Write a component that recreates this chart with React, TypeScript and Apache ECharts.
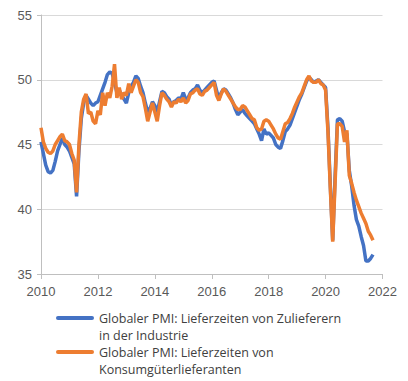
import React, { useEffect, useRef } from "react";
import * as echarts from "echarts";

const startYear = 2010;
const xTicks = [2010, 2012, 2014, 2016, 2018, 2020, 2022];
const yTicks = [35, 40, 45, 50, 55];

const seriesNames = [
  "Globaler PMI: Lieferzeiten von Zulieferern\nin der Industrie",
  "Globaler PMI: Lieferzeiten von\nKonsumgüterlieferanten",
];

// Monthly values, Jan 2010 – Sep 2021
const industrySuppliers = [
  45.2, 44.3, 43.4, 42.9, 42.8, 43.0, 43.7, 44.5, 45.0, 45.5, 45.0, 44.8,
  44.5, 44.0, 43.5, 41.0, 44.5, 47.0, 48.2, 48.8, 48.5, 48.2, 48.0, 48.2,
  48.3, 48.8, 49.3, 49.8, 50.4, 50.6, 50.5, 49.8, 49.0, 49.2, 48.8, 48.5,
  48.2, 49.0, 49.5, 49.8, 50.3, 50.1, 49.5, 49.0, 48.2, 47.5, 47.8, 48.3,
  48.0, 47.5, 48.3, 49.1, 49.0, 48.7, 48.5, 48.0, 48.3, 48.4, 48.6, 48.5,
  49.0, 48.5, 48.6, 49.0, 49.2, 49.3, 49.6, 49.2, 49.0, 49.2, 49.4, 49.6,
  49.8, 49.9, 49.2, 48.5, 49.0, 49.3, 49.2, 48.9, 48.6, 48.2, 47.7, 47.3,
  47.5, 47.7, 47.4, 47.2, 47.0, 46.8, 46.6, 46.2, 45.8, 45.3, 46.2, 45.8,
  45.9, 45.7, 45.5, 45.0, 44.8, 44.7, 45.3, 46.0, 46.2, 46.5, 47.0, 47.5,
  48.0, 48.5, 48.9, 49.4, 49.9, 50.2, 50.0, 49.8, 49.9, 50.0, 49.8, 49.6,
  49.4, 46.3, 41.8, 37.6, 42.5, 46.9, 47.0, 46.8, 46.0, 45.8, 43.0, 41.8,
  40.3, 39.2, 38.7, 37.9, 37.2, 36.0, 36.0, 36.2, 36.5,
];

const consumerGoodsSuppliers = [
  46.3, 45.2, 44.7, 44.4, 44.3, 44.5, 45.0, 45.3, 45.6, 45.8, 45.3, 45.2,
  45.0, 44.3, 43.8, 41.3, 45.0, 47.5, 48.5, 48.9, 47.4, 47.5, 46.8, 46.6,
  47.6, 47.3, 49.0, 48.0, 49.0, 48.6, 49.5, 51.2, 48.6, 49.4, 48.5, 49.0,
  48.8, 49.7, 49.0, 49.5, 50.0, 49.8, 49.0, 48.7, 47.8, 46.8, 47.5, 48.2,
  47.5, 46.8, 48.0, 49.0, 48.8, 48.5, 48.3, 47.9, 48.3, 48.2, 48.5, 48.3,
  48.6, 48.2, 48.4, 48.9, 49.0, 49.2, 49.3, 48.9, 48.8, 49.1, 49.2, 49.4,
  49.6, 49.8, 48.8, 48.4, 48.9, 49.3, 49.1, 48.8, 48.5, 48.2, 47.9, 47.7,
  47.7, 48.0, 47.9, 47.6, 47.3, 47.0, 46.9, 46.3, 46.1, 46.2, 46.8, 46.9,
  46.8, 46.5, 46.2, 45.8, 45.5, 45.4, 46.0, 46.6, 46.7, 47.0, 47.4, 47.9,
  48.3, 48.7, 49.0, 49.5, 50.0, 50.3, 49.9, 49.8, 49.8, 50.0, 49.7, 49.6,
  49.2, 46.0, 41.6, 37.5, 42.0, 46.6, 46.6, 46.4, 45.2, 46.1, 42.6, 42.0,
  41.3, 40.7, 40.2, 39.7, 39.3, 38.9, 38.3, 38.0, 37.6,
];

const colors = ["#4472C4", "#ED7D31"];

const toPoints = (vals: number[]) => vals.map((v, i) => [startYear + i / 12, v]);

const legendItem = (idx: number, y: number) => ({
  type: "group",
  children: [
    {
      type: "line",
      shape: { x1: 58, y1: y, x2: 92, y2: y },
      style: { stroke: colors[idx], lineWidth: 4, lineCap: "round" },
    },
    {
      type: "text",
      x: 99,
      y: y - 8.5,
      style: {
        text: seriesNames[idx],
        fill: "#404040",
        fontSize: 12.5,
        fontFamily: "Open Sans, sans-serif",
        lineHeight: 17,
        verticalAlign: "top",
        align: "left",
      },
    },
  ],
});

export default function App() {
  const ref = useRef<HTMLDivElement>(null);
  useEffect(() => {
    document.body.style.margin = "0";
    if (!ref.current) return;
    const chart = echarts.init(ref.current, null, { renderer: "svg" });
    chart.setOption({
      animation: false,
      grid: { left: 41, right: 25.5, top: 15, bottom: 107 },
      xAxis: {
        type: "value",
        min: xTicks[0],
        max: xTicks[xTicks.length - 1],
        interval: 2,
        axisLine: { show: true, lineStyle: { color: "#BFBFBF", width: 1 } },
        axisTick: { show: true, length: 5, lineStyle: { color: "#BFBFBF" } },
        splitLine: { show: false },
        axisLabel: {
          margin: 11,
          color: "#595959",
          fontSize: 13,
          fontFamily: "Liberation Sans, Arial, sans-serif",
          formatter: (v: number) => String(v),
        },
      },
      yAxis: {
        type: "value",
        min: yTicks[0],
        max: yTicks[yTicks.length - 1],
        interval: 5,
        axisLine: { show: true, lineStyle: { color: "#BFBFBF", width: 1 } },
        axisTick: { show: true, length: 4, lineStyle: { color: "#BFBFBF" } },
        splitLine: { show: true, lineStyle: { color: "#D9D9D9", width: 1 } },
        axisLabel: {
          margin: 9,
          color: "#595959",
          fontSize: 13,
          fontFamily: "Liberation Sans, Arial, sans-serif",
        },
      },
      graphic: [legendItem(0, 318), legendItem(1, 352)],
      series: [
        {
          name: seriesNames[0],
          type: "line",
          data: toPoints(industrySuppliers),
          showSymbol: false,
          symbol: "none",
          lineStyle: { color: colors[0], width: 3.5 },
          itemStyle: { color: colors[0] },
          z: 2,
        },
        {
          name: seriesNames[1],
          type: "line",
          data: toPoints(consumerGoodsSuppliers),
          showSymbol: false,
          symbol: "none",
          lineStyle: { color: colors[1], width: 3.5 },
          itemStyle: { color: colors[1] },
          z: 3,
        },
      ],
    });
    return () => chart.dispose();
  }, []);
  return <div ref={ref} style={{ width: 408, height: 381 }} />;
}
